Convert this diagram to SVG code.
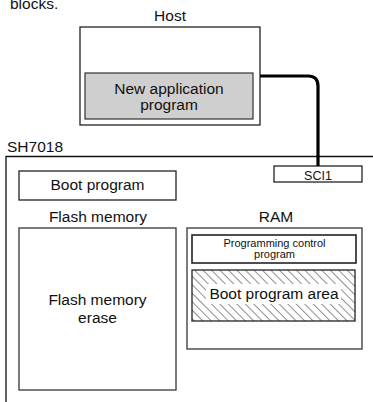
<svg xmlns="http://www.w3.org/2000/svg" width="373" height="402" viewBox="0 0 373 402">
<style>
text{font-family:"Liberation Sans",Arial,sans-serif;font-size:15.5px;fill:#111}
.c{text-anchor:middle}
.box{fill:#fff;stroke:#222;stroke-width:1.3}
.sm{font-size:11px}
.conn{fill:none;stroke:#000;stroke-width:3.2}
</style>
<defs>
<pattern id="hatch" patternUnits="userSpaceOnUse" width="6" height="6" patternTransform="rotate(-45)">
<rect width="6" height="6" fill="#fff"/>
<line x1="0" y1="0" x2="0" y2="6" stroke="#222" stroke-width="1"/>
</pattern>
</defs>
<rect width="373" height="402" fill="#fff"/>
<text x="10" y="9">blocks.</text>
<g id="host">
<text class="c" x="170" y="20.5">Host</text>
<rect class="box" x="80" y="27" width="180" height="98"/>
</g>
<g id="host-app">
<rect x="85" y="73" width="168" height="46" fill="#cfcfcf" stroke="#333" stroke-width="1.2"/>
<text class="c" x="169" y="94">New application</text>
<text class="c" x="169" y="110">program</text>
</g>
<g id="sh7018">
<text x="7" y="151.5">SH7018</text>
<path d="M6 410 V156.5 H380" fill="none" stroke="#111" stroke-width="1.3"/>
</g>
<g id="boot-program">
<rect class="box" x="19" y="171" width="157" height="29"/>
<text class="c" x="97.5" y="190">Boot program</text>
</g>
<g id="flash-memory">
<text class="c" x="98" y="222">Flash memory</text>
<rect x="19" y="228" width="157" height="162" fill="#fff" stroke="#444" stroke-width="1.4"/>
<text class="c" x="97.5" y="305">Flash memory</text>
<text class="c" x="97.5" y="323">erase</text>
</g>
<g id="ram">
<text class="c" x="276" y="222">RAM</text>
<rect x="187" y="228" width="175" height="121" fill="#fff" stroke="#444" stroke-width="1.4"/>
</g>
<g id="prog-control">
<rect x="192" y="235" width="164" height="28" fill="#fff" stroke="#222" stroke-width="1.6"/>
<text class="c sm" x="274.5" y="247">Programming control</text>
<text class="c sm" x="274.5" y="258">program</text>
</g>
<g id="boot-area">
<rect x="192" y="270" width="163" height="51" fill="url(#hatch)" stroke="#222" stroke-width="1.3"/>
<rect x="206" y="284" width="135" height="20" fill="#fff"/>
<text class="c" x="274" y="299">Boot program area</text>
</g>
<g id="sci1">
<rect class="box" x="274" y="166" width="88" height="16"/>
<text class="c" x="318" y="180" style="font-size:12.5px">SCI1</text>
</g>
<g id="connectors">
<path class="conn" d="M260 76 H308 Q318 76 318 86 V166"/>
</g>
</svg>
